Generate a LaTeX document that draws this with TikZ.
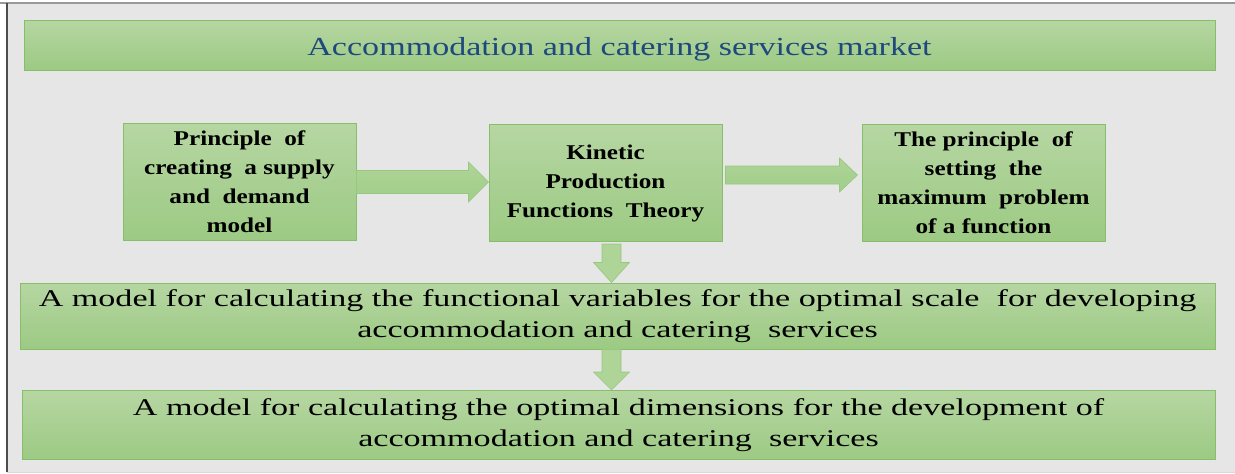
\documentclass[tikz,border=0pt]{standalone}
\usepackage{fontspec}
\setmainfont{Liberation Serif}
\newfontfamily\smallfont[FakeStretch=1.2]{Liberation Serif}
\newfontfamily\widefont[FakeStretch=1.42]{Liberation Serif}
\newfontfamily\titlefont[FakeStretch=1.31]{Liberation Serif}
\usetikzlibrary{calc}
\definecolor{bgray}{RGB}{230,230,230}
\definecolor{gtop}{RGB}{182,214,162}
\definecolor{gbot}{RGB}{156,202,131}
\definecolor{gline}{RGB}{135,190,105}
\definecolor{atop}{RGB}{175,212,152}
\definecolor{abot}{RGB}{160,205,136}
\definecolor{aline}{RGB}{150,200,125}
\definecolor{tblue}{RGB}{31,73,125}
\tikzset{
  gbox/.style={draw=gline, line width=1pt, top color=gtop, bottom color=gbot, inner sep=0pt, align=center},
  smallbox/.style={gbox, minimum width=233pt, minimum height=117pt, font=\smallfont\fontsize{21}{29}\selectfont\bfseries},
  widebox/.style={gbox, font=\widefont\fontsize{24}{31}\selectfont},
  barrow/.style={draw=aline, line width=0.6pt, top color=atop, bottom color=abot},
}
\newcommand\harrow[6]{% start, end, dy, shaft half, head half, head len
  \path let \p1=(#1), \p2=(#2) in
    [barrow] (\x1,\y1+#3+#4) -- (\x2-#6,\y1+#3+#4) -- (\x2-#6,\y1+#3+#5) -- (\x2,\y1+#3)
    -- (\x2-#6,\y1+#3-#5) -- (\x2-#6,\y1+#3-#4) -- (\x1,\y1+#3-#4) -- cycle;}
\newcommand\varrow[5]{% start, end, shaft half, head half, head len
  \path let \p1=(#1), \p2=(#2) in
    [barrow, left color=atop, right color=atop] (\x1-#3,\y1) -- (\x1+#3,\y1) -- (\x1+#3,\y2+#5) -- (\x1+#4,\y2+#5) -- (\x1,\y2)
    -- (\x1-#4,\y2+#5) -- (\x1-#3,\y2+#5) -- cycle;}
\begin{document}
\begin{tikzpicture}[x=1pt,y=-1pt]
\useasboundingbox (0,0) rectangle (1235,474);
\fill[white] (0,0) rectangle (1235,474);
\fill[bgray] (7,3) rectangle (1235,472);
\draw[gray!80, line width=1.5pt] (0,3) -- (1235,3);
\draw[black!70, line width=2pt] (7,3) -- (7,472);
\draw[black!15, line width=0.8pt] (7,472) -- (1235,472);

\node[gbox, minimum width=1191pt, minimum height=50pt, font=\titlefont\fontsize{26}{30}\selectfont, text=tblue, text height=26pt, text depth=6pt] (title) at (619.5,45) {Accommodation and catering services market};

\node[smallbox] (b1) at (239.5,182) {Principle\ \ of\\creating\ \ a supply\\and\ \ demand\\model};
\node[smallbox] (b2) at (605.5,183) {Kinetic\\Production\\Functions\ \ Theory};
\node[smallbox, minimum width=243pt] (b3) at (983.5,183) {The principle\ \ of\\setting\ \ the\\maximum\ \ problem\\of a function};

\node[widebox, minimum width=1195pt, minimum height=66pt] (b4) at (617.5,316) {A model for calculating the functional variables for the optimal scale\ \ for developing\\accommodation and catering\ \ services};
\node[widebox, minimum width=1193pt, minimum height=69pt] (b5) at (618.5,425) {A model for calculating the optimal dimensions for the development of\\accommodation and catering\ \ services};

\harrow{b1.east}{b2.west}{0pt}{11.5pt}{20pt}{20pt}
\path let \p1=(b2.east), \p2=(b3.west) in coordinate (a2s) at (\x1+3pt,\y1) coordinate (a2e) at (\x2-4pt,\y2);
\harrow{a2s}{a2e}{8pt}{9pt}{17pt}{18pt}
\path let \p1=(b2.south), \p2=(b4.north) in coordinate (d1s) at (\x1+6pt,\y1-2pt) coordinate (d1e) at (\x1+6pt,\y2);
\varrow{d1s}{d1e}{9.5pt}{18pt}{20pt}
\path let \p1=(d1s), \p2=(b4.south), \p3=(b5.north) in coordinate (d2s) at (\x1,\y2) coordinate (d2e) at (\x1,\y3);
\varrow{d2s}{d2e}{9.5pt}{18pt}{18pt}
\end{tikzpicture}
\end{document}
